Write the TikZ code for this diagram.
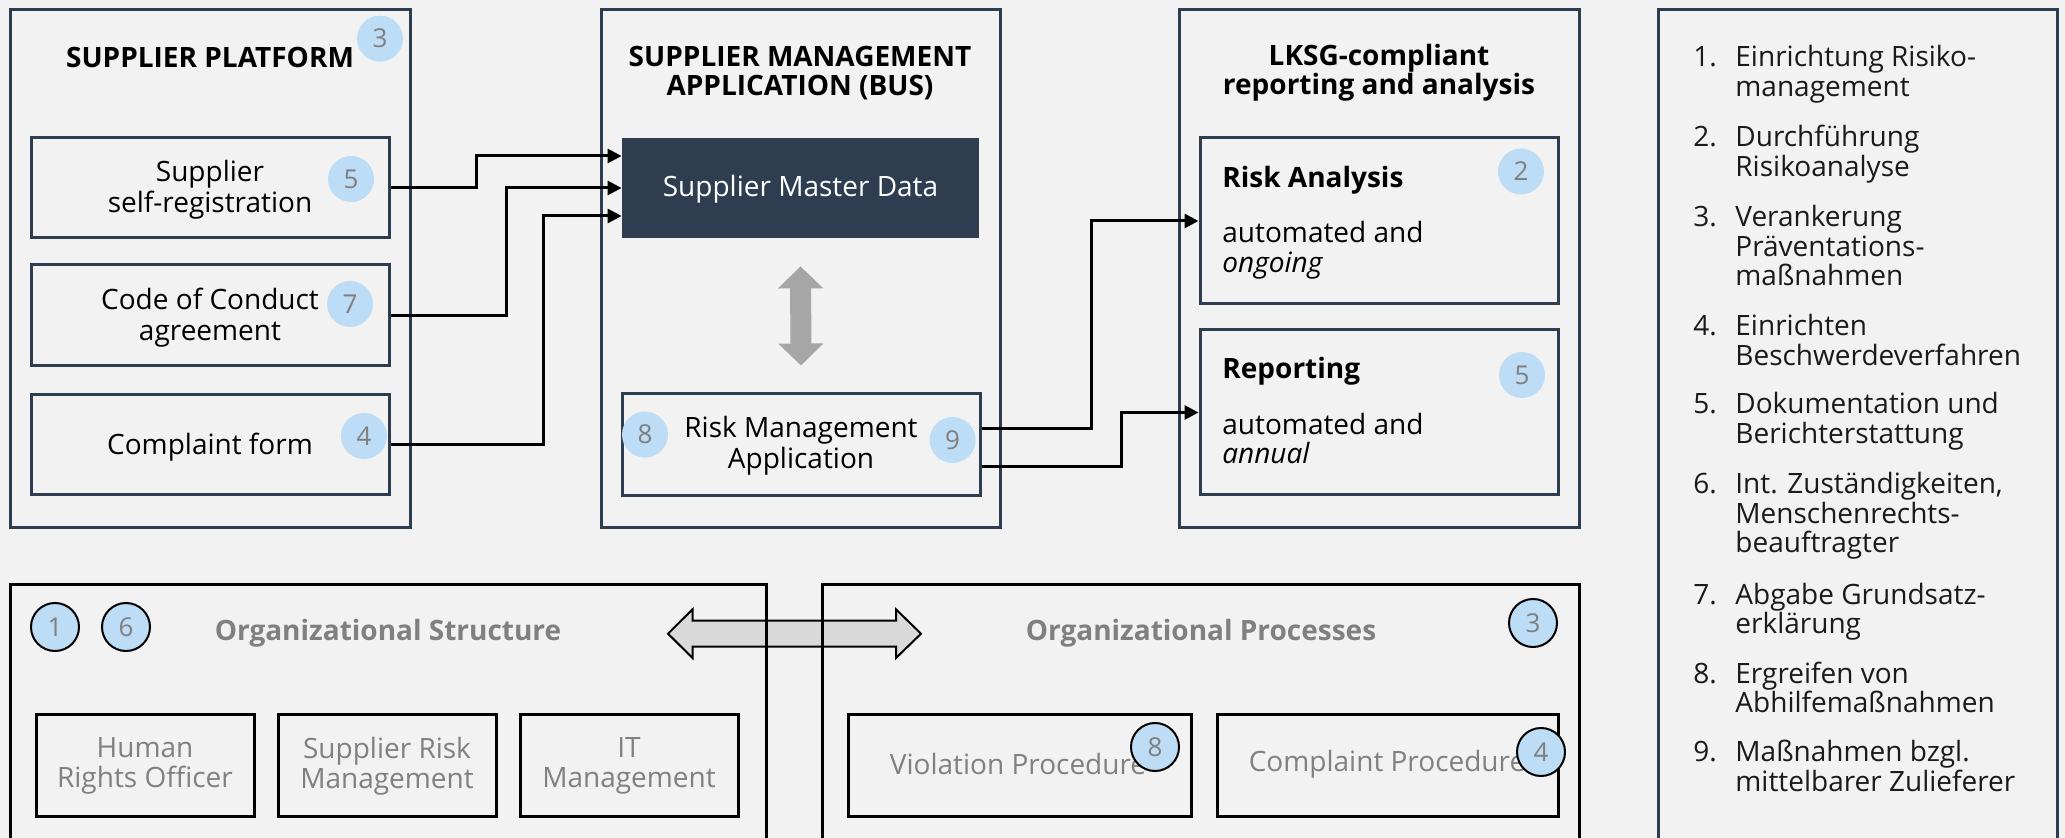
\documentclass[tikz,border=0pt]{standalone}
\usepackage{fontspec}
\setmainfont{Open Sans}
\usetikzlibrary{arrows.meta,fit,calc}
\definecolor{bgc}{RGB}{242,242,242}
\definecolor{slate}{RGB}{46,62,80}
\definecolor{bluec}{RGB}{189,220,246}
\definecolor{numc}{RGB}{127,127,127}
\definecolor{grayarrow}{RGB}{166,166,166}
\definecolor{lightarrow}{RGB}{217,217,217}
\definecolor{graytext}{RGB}{128,128,128}
\definecolor{legtext}{RGB}{26,26,26}
\begin{document}
\begin{tikzpicture}[x=0.5pt,y=-0.5pt,
  frame/.style={draw=slate,line width=1.5pt,inner sep=0pt},
  bframe/.style={draw=black,line width=1.5pt,inner sep=0pt},
  darkbox/.style={fill=slate,inner sep=0pt},
  badge/.style={circle,fill=bluec,minimum size=23pt,inner sep=0pt,text=numc,font=\fontsize{13}{15}\selectfont},
  obadge/.style={badge,draw=black,line width=1pt,minimum size=24pt},
  title/.style={font=\bfseries\fontsize{14}{14.5}\selectfont,align=center,inner sep=0pt},
  gtitle/.style={title,text=graytext},
  txt/.style={font=\fontsize{14}{15.5}\selectfont,align=center,inner sep=0pt},
  gtxt/.style={txt,text=graytext,font=\fontsize{14}{15}\selectfont},
  ltxt/.style={font=\fontsize{14}{14.75}\selectfont,align=left,inner sep=0pt,anchor=base west,text=legtext},
  conn/.style={draw=black,line width=1.5pt,-{Triangle[length=7pt,width=7pt]}},
]
\path[use as bounding box] (0,0) rectangle (2065,838);
\clip (0,0) rectangle (2065,838);
\fill[bgc] (0,0) rectangle (2065,838);

% ---------- Supplier platform ----------
\node[frame,fit={(10,10)(410,528)}] (sp) {};
\node[title] (spt) at (210,57) {SUPPLIER PLATFORM};
\node[badge] (sp3) at (380,38.6) {3};
\node[frame,fit={(31,138)(389,238)}] (b1) {};
\node[txt,yshift=-1pt] (b1t) at (b1.center) {Supplier\\self-registration};
\node[badge] (b1n) at (351,179) {5};
\node[frame,fit={(31,265)(389,366)}] (b2) {};
\node[txt,yshift=-1pt] (b2t) at (b2.center) {Code of Conduct\\agreement};
\node[badge] (b2n) at (350,304) {7};
\node[frame,fit={(31,395)(389,495)}] (b3) {};
\node[txt,yshift=-1pt] (b3t) at (b3.center) {Complaint form};
\node[badge] (b3n) at (364,436) {4};

% ---------- Supplier management application ----------
\node[frame,fit={(601,10)(1000,528)}] (bus) {};
\node[title] (bust) at (800,73) {SUPPLIER MANAGEMENT\\APPLICATION (BUS)};
\node[darkbox,fit={(622,138)(979,238)}] (smd) {};
\node[txt,text=white,yshift=-0.5pt] (smdt) at (smd.center) {Supplier Master Data};
\node[frame,fit={(622,394)(980,496)}] (rma) {};
\node[txt] (rmat) at (801,446) {Risk Management\\Application};
\node[badge] (rma8) at (645,434.6) {8};
\node[badge] (rma9) at (952.6,440) {9};
\draw[grayarrow,line width=10.5pt,{Triangle[length=11pt,width=22pt]}-{Triangle[length=11pt,width=22pt]}]
  ([yshift=-14pt]smd.south) -- ([yshift=13.5pt]rma.north);

% ---------- LKSG reporting ----------
\node[frame,fit={(1179,10)(1579,528)}] (lk) {};
\node[title] (lkt) at (1379,73) {LKSG-compliant\\reporting and analysis};
\node[frame,fit={(1200,138)(1558,304)}] (ra) {};
\node[title,anchor=base west] (rat) at (1222,188) {Risk Analysis};
\node[ltxt,text=black] (rad) at (1222,272.5) {automated and\\\itshape ongoing};
\node[badge] (ra2) at (1521,171.5) {2};
\node[frame,fit={(1200,330)(1558,495)}] (rep) {};
\node[title,anchor=base west] (rept) at (1222,379) {Reporting};
\node[ltxt,text=black] (repd) at (1222,464) {automated and\\\itshape annual};
\node[badge] (rep5) at (1522,375) {5};

% ---------- connectors ----------
\draw[conn] (b1.east) -- ++(85.5,0) |- ([yshift=16pt]smd.west);
\draw[conn] (b2.east) -- ++(116,0) |- (smd.west);
\draw[conn] (b3.east) -- ++(153,0) |- ([yshift=-14pt]smd.west);
\draw[conn] ([yshift=8pt]rma.east) -- ++(110,0) |- (ra.west);
\draw[conn] ([yshift=-10.8pt]rma.east) -- ++(140,0) |- (rep.west);

% ---------- bottom double arrow ----------
\coordinate (hl) at (668,633.7);
\coordinate (hr) at (921,633.7);
\filldraw[fill=lightarrow,draw=black,line width=1pt,line join=miter]
  (hl) -- ++(24.5,-24.3) -- ++(0,11.3) -- ++(203.5,0) -- ++(0,-11.3) -- (hr)
  -- ++(-25,24.3) -- ++(0,-11.3) -- ++(-203.5,0) -- ++(0,11.3) -- cycle;

% ---------- Organizational structure ----------
\node[bframe,fit={(10,585)(766,900)}] (os) {};
\node[gtitle] (ost) at (388,633) {Organizational Structure};
\node[obadge] (os1) at (55,627) {1};
\node[obadge] (os6) at (126,627) {6};
\node[bframe,fit={(36,714)(254,816)}] (hro) {};
\node[gtxt,yshift=-0.5pt] (hrot) at (hro.center) {Human\\Rights Officer};
\node[bframe,fit={(278,714)(496,816)}] (srm) {};
\node[gtxt,yshift=-0.5pt] (srmt) at (srm.center) {Supplier Risk\\Management};
\node[bframe,fit={(520,714)(738,816)}] (itm) {};
\node[gtxt,yshift=-0.5pt] (itmt) at (itm.center) {IT\\Management};

% ---------- Organizational processes ----------
\node[bframe,fit={(822,585)(1579,900)}] (op) {};
\node[gtitle] (opt) at (1201,633) {Organizational Processes};
\node[obadge] (op3) at (1533,623) {3};
\node[bframe,fit={(848,714)(1191,816)}] (vp) {};
\node[gtxt] (vpt) at (1018,764) {Violation Procedure};
\node[obadge] (vp8) at (1155,747) {8};
\node[bframe,fit={(1217,714)(1558,816)}] (cp) {};
\node[gtxt] (cpt) at (1387,764) {Complaint Procedure};
\node[obadge] (cp4) at (1541,752) {4};

% ---------- Legend ----------
\node[frame,fit={(1658,10)(2057,900)}] (lg) {};
\node[ltxt] (n1) at (1693,66.8) {1.};
\node[ltxt] (t1) at (1735,96.3) {Einrichtung Risiko-\\management};
\node[ltxt] (n2) at (1693,147) {2.};
\node[ltxt] (t2) at (1735,176.5) {Durchführung\\Risikoanalyse};
\node[ltxt] (n3) at (1693,227) {3.};
\node[ltxt] (t3) at (1735,286) {Verankerung\\Präventations-\\maßnahmen};
\node[ltxt] (n4) at (1693,335.6) {4.};
\node[ltxt] (t4) at (1735,365.1) {Einrichten\\Beschwerdeverfahren};
\node[ltxt] (n5) at (1693,414) {5.};
\node[ltxt] (t5) at (1735,443.5) {Dokumentation und\\Berichterstattung};
\node[ltxt] (n6) at (1693,494) {6.};
\node[ltxt] (t6) at (1735,553) {Int. Zuständigkeiten,\\Menschenrechts-\\beauftragter};
\node[ltxt] (n7) at (1693,604) {7.};
\node[ltxt] (t7) at (1735,633.5) {Abgabe Grundsatz-\\erklärung};
\node[ltxt] (n8) at (1693,683) {8.};
\node[ltxt] (t8) at (1735,712.5) {Ergreifen von\\Abhilfemaßnahmen};
\node[ltxt] (n9) at (1693,761.6) {9.};
\node[ltxt] (t9) at (1735,791.1) {Maßnahmen bzgl.\\mittelbarer Zulieferer};
\end{tikzpicture}
\end{document}
